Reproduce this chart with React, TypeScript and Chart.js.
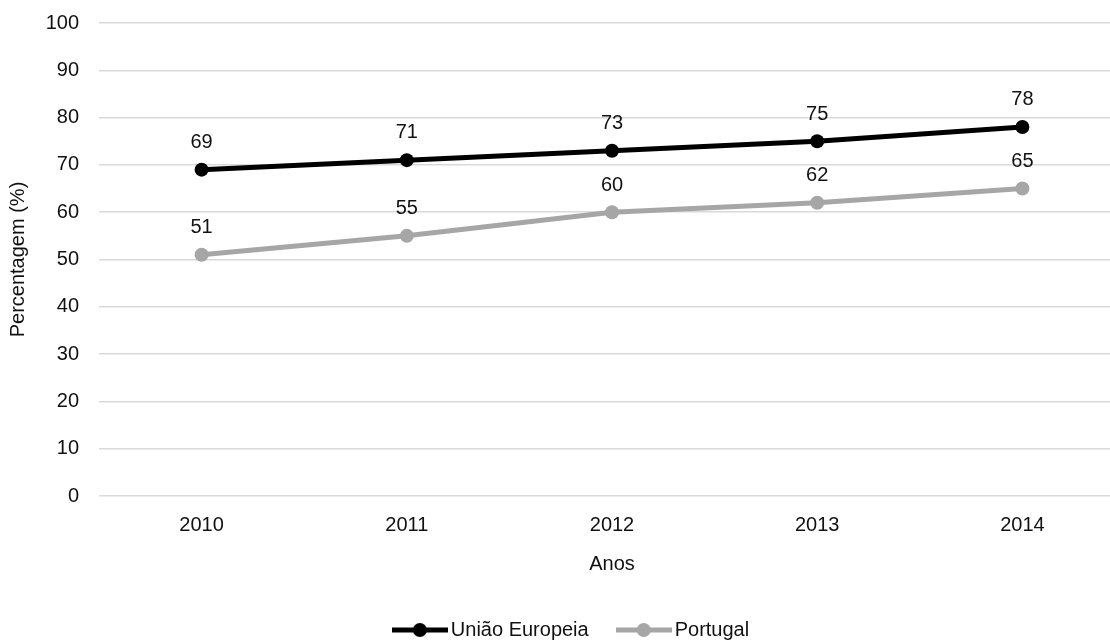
import React, { useEffect, useRef } from 'react';
import { Chart, registerables } from 'chart.js';

Chart.register(...registerables);

// Share of individuals (%) by year
const years = ['2010', '2011', '2012', '2013', '2014'];
const euValues = [69, 71, 73, 75, 78];
const ptValues = [51, 55, 60, 62, 65];
const yTickValues = [0, 10, 20, 30, 40, 50, 60, 70, 80, 90, 100];
const seriesNames = ['União Europeia', 'Portugal'];

const FONT = "'Liberation Sans', Arial, sans-serif";
const SIZE = 20;
const TEXT = '#111111';
const EU_COLOR = '#000000';
const PT_COLOR = '#a6a6a6';
const GRID = '#d9d9d9';

// Line-with-marker swatch used as the legend symbol
function makeSwatch(color: string): HTMLCanvasElement {
  const c = document.createElement('canvas');
  c.width = 56;
  c.height = 16;
  const g = c.getContext('2d')!;
  g.strokeStyle = color;
  g.lineWidth = 5;
  g.beginPath();
  g.moveTo(0, 8);
  g.lineTo(56, 8);
  g.stroke();
  g.fillStyle = color;
  g.beginPath();
  g.arc(28, 8, 7, 0, Math.PI * 2);
  g.fill();
  return c;
}

// Writes each point's value above its marker
const valueLabels = {
  id: 'valueLabels',
  afterDatasetsDraw(chart: any) {
    const ctx = chart.ctx;
    ctx.save();
    ctx.font = `${SIZE}px ${FONT}`;
    ctx.fillStyle = TEXT;
    ctx.textAlign = 'center';
    ctx.textBaseline = 'middle';
    chart.data.datasets.forEach((ds: any, i: number) => {
      const meta = chart.getDatasetMeta(i);
      meta.data.forEach((pt: any, j: number) => {
        ctx.fillText(String(ds.data[j]), pt.x, pt.y - 27.2);
      });
    });
    ctx.restore();
  },
};

// Moves the legend row slightly to the right of the canvas centre
const legendNudge = {
  id: 'legendNudge',
  afterLayout(chart: any) {
    if (chart.legend) chart.legend.left += 16;
  },
};

export default function App() {
  const canvasRef = useRef<HTMLCanvasElement | null>(null);

  useEffect(() => {
    if (!canvasRef.current) return;
    const swatches = [makeSwatch(EU_COLOR), makeSwatch(PT_COLOR)];
    const font = { family: FONT, size: SIZE };

    const chart = new Chart(canvasRef.current, {
      type: 'line',
      data: {
        labels: years,
        datasets: [
          {
            label: seriesNames[0],
            data: euValues,
            borderColor: EU_COLOR,
            backgroundColor: EU_COLOR,
            borderWidth: 5,
            pointRadius: 7,
            pointBorderWidth: 0,
            pointBackgroundColor: EU_COLOR,
            tension: 0,
          },
          {
            label: seriesNames[1],
            data: ptValues,
            borderColor: PT_COLOR,
            backgroundColor: PT_COLOR,
            borderWidth: 5,
            pointRadius: 7,
            pointBorderWidth: 0,
            pointBackgroundColor: PT_COLOR,
            tension: 0,
          },
        ],
      },
      options: {
        animation: false,
        responsive: true,
        maintainAspectRatio: false,
        layout: { padding: { top: 23, left: 0, right: 0, bottom: 0 } },
        scales: {
          x: {
            type: 'category',
            offset: true,
            grid: { display: false, drawTicks: false },
            border: { display: false },
            ticks: { padding: 17, color: TEXT, font, maxRotation: 0 },
            title: {
              display: true,
              text: 'Anos',
              color: TEXT,
              font,
              padding: { top: 0, bottom: 9.5 },
            },
            afterFit: (scale: any) => {
              scale.height = 90;
              scale.paddingLeft = 0;
              scale.paddingRight = 0;
            },
          },
          y: {
            min: 0,
            max: 100,
            grid: { color: GRID, lineWidth: 1.5, drawTicks: false },
            border: { display: false },
            ticks: { stepSize: 10, padding: 20, color: TEXT, font },
            afterBuildTicks: (scale: any) => {
              scale.ticks = yTickValues.map((v) => ({ value: v }));
            },
            title: {
              display: true,
              text: 'Percentagem (%)',
              color: TEXT,
              font,
              padding: { top: 6, bottom: 0 },
            },
            afterFit: (scale: any) => {
              scale.width = 99;
              scale.paddingTop = 0;
              scale.paddingBottom = 0;
            },
          },
        },
        plugins: {
          legend: {
            display: true,
            position: 'bottom',
            labels: {
              usePointStyle: true,
              pointStyleWidth: 42,
              padding: 34,
              color: TEXT,
              font,
              generateLabels: (c: any) =>
                Chart.defaults.plugins.legend.labels
                  .generateLabels(c)
                  .map((item: any, i: number) => ({ ...item, pointStyle: swatches[i] })),
            },
          },
          tooltip: { enabled: false },
        },
      },
      plugins: [valueLabels, legendNudge],
    } as any);

    return () => chart.destroy();
  }, []);

  return (
    <div
      style={{
        position: 'fixed',
        left: 0,
        top: 0,
        width: 1132,
        height: 650,
        background: '#ffffff',
      }}
    >
      <canvas ref={canvasRef} />
    </div>
  );
}
